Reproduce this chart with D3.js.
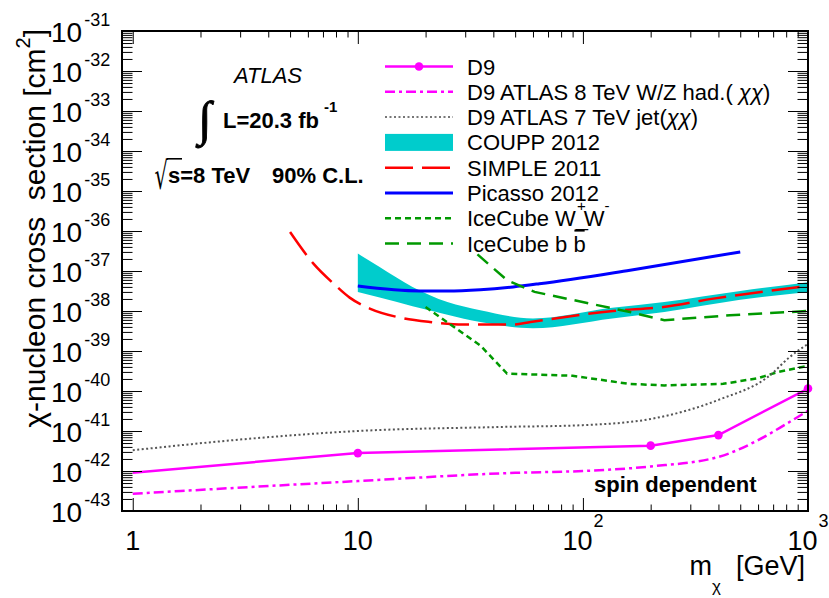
<!DOCTYPE html>
<html><head><meta charset="utf-8">
<script src="https://cdn.jsdelivr.net/npm/d3@7"></script>
<style>
body{margin:0;background:#fff}
text{font-family:"Liberation Sans",Arial,Helvetica,sans-serif;fill:#000}
</style>
</head><body>
<svg id="chart" width="829" height="598"></svg>
<script>
// ---------- data (mass in GeV, cross-section in cm^2) ----------
const d9Mass   = [1, 10, 200, 400, 1000];
const d9Sigma  = [9.1e-43, 2.8e-42, 4.3e-42, 7.9e-42, 1.15e-40];

const wzMass   = [1, 10, 50, 100, 200, 400, 600, 800, 1000];
const wzSigma  = [2.7e-43, 5.6e-43, 9.0e-43, 1.0e-42, 1.3e-42, 2.25e-42, 5.9e-42, 1.5e-41, 3.2e-41];

const jetMass  = [1, 3.4, 10, 43, 100, 200, 400, 680, 830, 1000];
const jetSigma = [3.3e-42, 6.5e-42, 1.0e-41, 1.26e-41, 1.4e-41, 2.0e-41, 6.0e-41, 2.5e-40, 7.1e-40, 1.5e-39];

const coupMass = [10, 12.5, 17.5, 25, 35, 60, 135, 230, 500, 1000];
const coupHigh = [2.72e-37, 1.26e-37, 4.0e-38, 1.68e-38, 1.05e-38, 6.5e-39, 1.2e-38, 1.68e-38, 3.16e-38, 5.25e-38];
const coupLow  = [2.99e-38, 2.16e-38, 1.32e-38, 8.1e-39, 5.3e-39, 3.7e-39, 6.5e-39, 9.4e-39, 1.9e-38, 3.0e-38];

const simpleMass  = [5.0, 6.35, 7.8, 9.2, 11.3, 14.9, 20.9, 29.5, 49, 58.5, 136, 228, 380, 1000];
const simpleSigma = [9.4e-37, 1.53e-37, 4.84e-38, 2.16e-38, 1.15e-38, 7.1e-39, 5.3e-39, 4.6e-39, 4.6e-39, 5.3e-39, 1.0e-38, 1.26e-38, 2.04e-38, 4.2e-38];

const picassoMass  = [10, 18.9, 25, 35, 49, 64, 162, 500];
const picassoSigma = [4.2e-38, 3.16e-38, 3.16e-38, 3.4e-38, 4.0e-38, 4.8e-38, 1.05e-37, 3.0e-37];

const icWWMass  = [20, 35, 46, 90, 160, 230, 420, 600, 730, 1000];
const icWWSigma = [1.26e-38, 1.38e-39, 2.72e-40, 2.4e-40, 1.51e-40, 1.38e-40, 1.51e-40, 2.09e-40, 2.95e-40, 4.27e-40];

const icBBMass  = [34, 46, 61, 162, 230, 450, 1000];
const icBBSigma = [2.6e-37, 5.9e-38, 3.0e-38, 9.4e-39, 5.9e-39, 7.8e-39, 1.0e-38];

const xMajorTicks = [1, 10, 100, 1000];
const xTickLabels = [["1",""], ["10",""], ["10","2"], ["10","3"]];
const yExponents  = [-43,-42,-41,-40,-39,-38,-37,-36,-35,-34,-33,-32,-31];

const legendLabels = ["D9", "D9 ATLAS 8 TeV W/Z had.( χχ)", "D9 ATLAS 7 TeV jet(χχ)",
  "COUPP 2012", "SIMPLE 2011", "Picasso 2012", "IceCube W", "IceCube b "];

// ---------- setup ----------
const svg = d3.select("#chart");
const L = 122, R = 808, T = 31, B = 511;
const x = d3.scaleLog().domain([0.896, 1000]).range([L, R]);
const y = d3.scaleLog().domain([1e-43, 1e-31]).range([B, T]);

const zip = (m, s) => m.map((v, i) => ({m: v, s: s[i]}));

const xMinor = [];
[1, 10, 100].forEach(d => { for (let k = 2; k <= 9; k++) xMinor.push(d * k); });
const yMajor = yExponents.map(e => Math.pow(10, e));
const yMinor = [];
yExponents.slice(0, -1).forEach(e => { for (let k = 2; k <= 9; k++) yMinor.push(k * Math.pow(10, e)); });

// ---------- data marks ----------
const lineLin = d3.line().x(d => x(d.m)).y(d => y(d.s));
const lineSmooth = d3.line().x(d => x(d.m)).y(d => y(d.s)).curve(d3.curveMonotoneX);

const coupData = coupMass.map((m, i) => ({m, hi: coupHigh[i], lo: coupLow[i]}));
svg.append("path").datum(coupData)
  .attr("d", d3.area().x(d => x(d.m)).y0(d => y(d.lo)).y1(d => y(d.hi)).curve(d3.curveMonotoneX))
  .attr("fill", "#00cccc");

const styles = {
  d9:      {stroke: "#ff00ff", width: 2.5, dash: null},
  wz:      {stroke: "#ff00ff", width: 2.5, dash: "10,4,3,4"},
  jet:     {stroke: "#555555", width: 2,   dash: "2,2.5"},
  simple:  {stroke: "#ff0000", width: 2.5, dash: "28,9"},
  picasso: {stroke: "#0000ff", width: 3,   dash: null},
  icww:    {stroke: "#009900", width: 2.5, dash: "6,4"},
  icbb:    {stroke: "#009900", width: 2.5, dash: "14,8"}
};
function drawLine(data, st, gen) {
  svg.append("path").datum(data).attr("d", gen).attr("fill", "none")
    .attr("stroke", st.stroke).attr("stroke-width", st.width)
    .attr("stroke-dasharray", st.dash);
}
drawLine(zip(simpleMass, simpleSigma), styles.simple, lineSmooth);
drawLine(zip(picassoMass, picassoSigma), styles.picasso, lineSmooth);
drawLine(zip(icWWMass, icWWSigma), styles.icww, lineLin);
drawLine(zip(icBBMass, icBBSigma), styles.icbb, lineLin);
drawLine(zip(jetMass, jetSigma), styles.jet, lineSmooth);
drawLine(zip(wzMass, wzSigma), styles.wz, lineSmooth);
const d9Data = zip(d9Mass, d9Sigma);
drawLine(d9Data, styles.d9, lineLin);
svg.selectAll("circle.d9").data(d9Data.filter(d => d.m > 1)).enter().append("circle")
  .attr("cx", d => x(d.m)).attr("cy", d => y(d.s)).attr("r", 4.3).attr("fill", "#ff00ff");

// ---------- axes ----------
function axisG(gen, tr) {
  const g = svg.append("g").attr("transform", tr).call(gen);
  g.select(".domain").remove();
  g.selectAll("line").attr("stroke", "#000").attr("stroke-width", 1);
  g.selectAll("text").remove();
}
axisG(d3.axisBottom(x).tickValues(xMajorTicks).tickSize(-13).tickFormat(""), `translate(0,${B})`);
axisG(d3.axisBottom(x).tickValues(xMinor).tickSize(-6.5).tickFormat(""), `translate(0,${B})`);
axisG(d3.axisTop(x).tickValues(xMajorTicks).tickSize(-13).tickFormat(""), `translate(0,${T})`);
axisG(d3.axisTop(x).tickValues(xMinor).tickSize(-6.5).tickFormat(""), `translate(0,${T})`);
axisG(d3.axisLeft(y).tickValues(yMajor).tickSize(-20).tickFormat(""), `translate(${L},0)`);
axisG(d3.axisLeft(y).tickValues(yMinor).tickSize(-10.5).tickFormat(""), `translate(${L},0)`);
axisG(d3.axisRight(y).tickValues(yMajor).tickSize(-20).tickFormat(""), `translate(${R},0)`);
axisG(d3.axisRight(y).tickValues(yMinor).tickSize(-10.5).tickFormat(""), `translate(${R},0)`);

svg.append("rect").attr("x", L).attr("y", T).attr("width", R - L).attr("height", B - T)
  .attr("fill", "none").attr("stroke", "#000").attr("stroke-width", 2);

// y tick labels
yExponents.forEach(e => {
  const yy = y(Math.pow(10, e));
  const t = svg.append("text").attr("x", 51).attr("y", yy + 11).attr("font-size", 28);
  t.append("tspan").text("10");
  t.append("tspan").attr("dx", 2).attr("dy", -16).attr("font-size", 18).text(String(e));
});
// x tick labels
xMajorTicks.forEach((v, i) => {
  const t = svg.append("text").attr("x", x(v)).attr("y", 550).attr("font-size", 27)
    .attr("text-anchor", "middle");
  t.append("tspan").text(xTickLabels[i][0]);
  if (xTickLabels[i][1]) t.append("tspan").attr("dx", 1).attr("dy", -23).attr("font-size", 18).text(xTickLabels[i][1]);
});

// axis titles
const yt = svg.append("text").attr("transform", "translate(45,29) rotate(-90)")
  .attr("text-anchor", "end").attr("font-size", 30).style("white-space", "pre");
yt.append("tspan").text("χ-nucleon cross  section [cm");
yt.append("tspan").attr("dy", -15).attr("font-size", 20).text("2");
yt.append("tspan").attr("dy", 15).text("]");

const xt = svg.append("text").attr("x", 805).attr("y", 575).attr("text-anchor", "end")
  .attr("font-size", 27).style("white-space", "pre");
xt.append("tspan").text("m");
xt.append("tspan").attr("dy", 17).attr("font-size", 17).text("χ");
xt.append("tspan").attr("dy", -17).text("  [GeV]");

// ---------- annotations ----------
const measureCtx = document.createElement("canvas").getContext("2d");
// place a glyph so that its ink fills a given box (left, top, height[, width])
function fitGlyph(ch, family, left, top, height, width, extra) {
  measureCtx.font = `100px ${family}`;
  const mm = measureCtx.measureText(ch);
  const inkH = mm.actualBoundingBoxAscent + mm.actualBoundingBoxDescent;
  const inkW = mm.actualBoundingBoxRight + mm.actualBoundingBoxLeft;
  const fs = 100 * height / inkH;
  const k = fs / 100;
  const sx = width ? width / (inkW * k) : 1;
  const baseline = top + mm.actualBoundingBoxAscent * k;
  const g = svg.append("g")
    .attr("transform", `translate(${left + mm.actualBoundingBoxLeft * k * sx},${baseline}) scale(${sx},1)`);
  const t = g.append("text").attr("x", 0).attr("y", 0).attr("font-size", fs)
    .style("font-family", family).text(ch);
  if (extra) extra(t);
  return {right: left + inkW * k * sx, top};
}
svg.append("text").attr("x", 268).attr("y", 83).attr("text-anchor", "middle")
  .attr("font-size", 22).attr("font-style", "italic").text("ATLAS");
fitGlyph("∫", "'Liberation Serif'", 195, 100, 48, null,
  t => t.attr("stroke", "#000").attr("stroke-width", 0.9));
const lum = svg.append("text").attr("x", 223).attr("y", 128).attr("font-size", 22).attr("font-weight", "bold");
lum.append("tspan").text("L=20.3 fb");
lum.append("tspan").attr("dx", 5).attr("dy", -16).attr("font-size", 15).text("-1");
const radInfo = fitGlyph("√", "'DejaVu Sans'", 155, 158, 32, 13);
svg.append("line").attr("x1", radInfo.right - 1).attr("x2", 182)
  .attr("y1", radInfo.top + 0.8).attr("y2", radInfo.top + 0.8).attr("stroke", "#000").attr("stroke-width", 1.6);
svg.append("text").attr("x", 168).attr("y", 183).attr("font-size", 22).attr("font-weight", "bold").text("s=8 TeV");
svg.append("text").attr("x", 272).attr("y", 183).attr("font-size", 22).attr("font-weight", "bold").text("90% C.L.");
svg.append("text").attr("x", 594).attr("y", 492).attr("font-size", 22).attr("font-weight", "bold").text("spin dependent");

// ---------- legend ----------
const lgX0 = 385, lgX1 = 453, lgTx = 467, lgY0 = 66.5, lgDy = 25.3;
const lgStyles = [styles.d9, styles.wz, {stroke: "#777", width: 2, dash: "2,2.5"}, null,
  styles.simple, styles.picasso, styles.icww, styles.icbb];
legendLabels.forEach((lab, i) => {
  const yy = lgY0 + i * lgDy;
  const st = lgStyles[i];
  if (st) {
    svg.append("line").attr("x1", lgX0).attr("x2", lgX1).attr("y1", yy).attr("y2", yy)
      .attr("stroke", st.stroke).attr("stroke-width", st.width).attr("stroke-dasharray", st.dash);
  } else {
    svg.append("rect").attr("x", lgX0).attr("y", yy - 8.5).attr("width", lgX1 - lgX0).attr("height", 17).attr("fill", "#00cccc");
  }
  if (i === 0) svg.append("circle").attr("cx", (lgX0 + lgX1) / 2).attr("cy", yy).attr("r", 4.3).attr("fill", "#ff00ff");
  const t = svg.append("text").attr("x", lgTx).attr("y", yy + 8).attr("font-size", 22).style("white-space", "pre");
  // split on chi so the Greek letters are set in italic like the original
  lab.split(/(χ)/).filter(s => s.length).forEach(s => {
    const sp = t.append("tspan").text(s);
    if (s === "χ") sp.attr("font-style", "italic");
  });
  if (i === 6) {
    t.append("tspan").text("_");
    t.append("tspan").attr("dx", -11).attr("dy", -15).attr("font-size", 15).text("+");
    t.append("tspan").attr("dx", -2).attr("dy", 15).text("W");
    t.append("tspan").attr("dy", -15).attr("font-size", 15).text("-");
  }
  if (i === 7) {
    t.append("tspan").text("b");
    const node = t.node();
    const start = node.getSubStringLength(0, lab.length);
    const w = node.getSubStringLength(lab.length, 1);
    svg.append("line").attr("x1", lgTx + start + 1).attr("x2", lgTx + start + w - 1)
      .attr("y1", yy - 13).attr("y2", yy - 13).attr("stroke", "#000").attr("stroke-width", 2);
  }
});
</script>
</body></html>
